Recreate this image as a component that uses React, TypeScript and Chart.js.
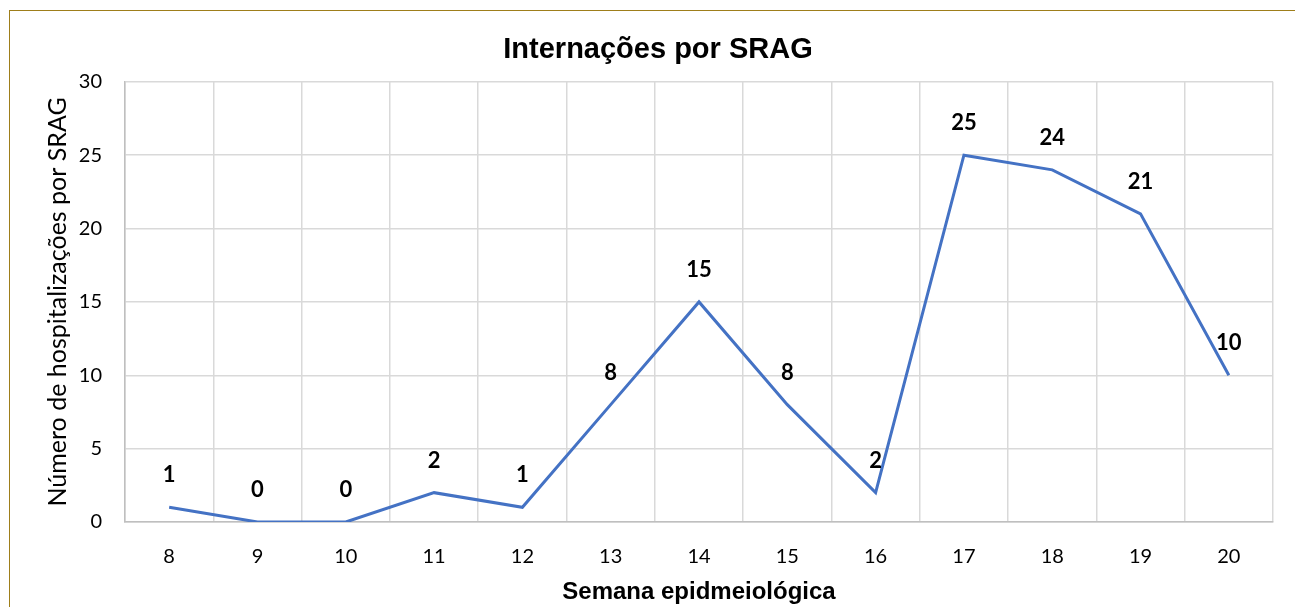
import React, { useEffect, useRef } from "react";
import { Chart, registerables } from "chart.js";

Chart.register(...registerables);

const weeks: string[] = ["8", "9", "10", "11", "12", "13", "14", "15", "16", "17", "18", "19", "20"];
const hospitalizations: number[] = [1, 0, 0, 2, 1, 8, 15, 8, 2, 25, 24, 21, 10];
const chartTitle = "Internações por SRAG";
const xTitle = "Semana epidmeiológica";
const yTitle = "Número de hospitalizações por SRAG";

const labelPlugin = {
  id: "pointLabels",
  afterDatasetsDraw(chart: any) {
    const ctx = chart.ctx;
    const meta = chart.getDatasetMeta(0);
    ctx.save();
    ctx.font = "bold 22px Lato, 'Open Sans', sans-serif";
    ctx.fillStyle = "#000000";
    ctx.textAlign = "center";
    ctx.textBaseline = "middle";
    meta.data.forEach((pt: any, i: number) => {
      ctx.fillText(String(hospitalizations[i]), pt.x, pt.y - 32);
    });
    ctx.restore();
  },
};

export default function App() {
  const ref = useRef<HTMLCanvasElement | null>(null);
  useEffect(() => {
    if (!ref.current) return;
    const chart = new Chart(ref.current, {
      type: "line",
      data: {
        labels: weeks,
        datasets: [
          {
            data: hospitalizations,
            borderColor: "#4472C4",
            borderWidth: 3,
            pointRadius: 0,
            tension: 0,
            fill: false,
          },
        ],
      },
      options: {
        animation: false,
        responsive: false,
        maintainAspectRatio: false,
        layout: { padding: { left: 43, right: 22, top: 0, bottom: 0 } },
        plugins: {
          legend: { display: false },
          tooltip: { enabled: false },
          title: {
            display: true,
            text: chartTitle,
            color: "#000000",
            font: { family: "'Liberation Sans', Arial, sans-serif", size: 29, weight: "bold" },
            padding: { top: 33, bottom: 14 },
          },
        },
        scales: {
          x: {
            offset: true,
            grid: {
              offset: true,
              color: "#D9D9D9",
              lineWidth: 1.5,
              drawTicks: false,
            },
            border: { color: "#BFBFBF", width: 1.5 },
            ticks: {
              color: "#000000",
              font: { family: "Lato, 'Open Sans', sans-serif", size: 20 },
              padding: 23,
            },
            title: {
              display: true,
              text: xTitle,
              color: "#000000",
              font: { family: "'Liberation Sans', Arial, sans-serif", size: 24, weight: "bold" },
              padding: { top: 10, bottom: 0 },
            },
            afterFit(scale: any) {
              scale.height = 85;
            },
          },
          y: {
            min: 0,
            max: 30,
            ticks: {
              stepSize: 5,
              color: "#000000",
              font: { family: "Lato, 'Open Sans', sans-serif", size: 20 },
              padding: 23,
            },
            grid: { color: "#D9D9D9", lineWidth: 1.5, drawTicks: false },
            border: { color: "#BFBFBF", width: 1.5 },
            title: {
              display: true,
              text: yTitle,
              color: "#000000",
              font: { family: "Lato, 'Open Sans', sans-serif", size: 25 },
              padding: { top: 0, bottom: 0 },
            },
            afterFit(scale: any) {
              scale.width = 82;
            },
          },
        },
      },
      plugins: [labelPlugin],
    });
    return () => chart.destroy();
  }, []);

  return (
    <div
      style={{
        position: "absolute",
        left: 0,
        top: 0,
        width: 1295,
        height: 607,
        overflow: "hidden",
        background: "#ffffff",
      }}
    >
      <div
        style={{
          position: "absolute",
          left: 9,
          top: 10,
          width: 1400,
          height: 700,
          border: "1.5px solid #9E7E1A",
        }}
      />
      <canvas
        ref={ref}
        width={1295}
        height={607}
        style={{ position: "absolute", left: 0, top: 0, width: 1295, height: 607 }}
      />
    </div>
  );
}
